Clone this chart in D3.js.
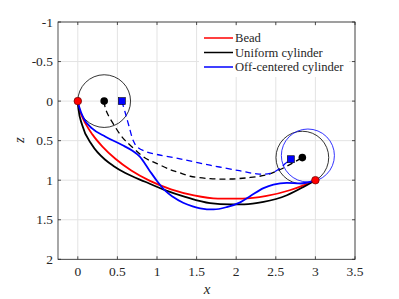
<!DOCTYPE html>
<html><head><meta charset="utf-8">
<script src="https://cdn.jsdelivr.net/npm/d3@7"></script>
<style>body{margin:0;background:#fff}svg{display:block}</style>
</head><body><div id="chart"></div>
<script>
const xTicks = [0, 0.5, 1, 1.5, 2, 2.5, 3, 3.5];
const zTicks = [-1, -0.5, 0, 0.5, 1, 1.5, 2];
const xTickLabels = ["0","0.5","1","1.5","2","2.5","3","3.5"];
const zTickLabels = ["-1","-0.5","0","0.5","1","1.5","2"];
const seriesNames = ["Bead", "Uniform cylinder", "Off-centered cylinder"];
const seriesColors = ["#ff0000", "#000000", "#0000ff"];

// track curves [x, z]
const beadCurve = [[0,0],[0.002,0.019],[0.013,0.076],[0.042,0.166],[0.098,0.285],[0.186,0.424],[0.311,0.575],[0.474,0.729],[0.675,0.877],[0.911,1.008],[1.177,1.115],[1.466,1.191],[1.77,1.232],[2.079,1.234],[2.384,1.199],[2.675,1.127],[2.85,1.065],[3,1]];
const uniformCurve = [[0,0],[0.008,0.1],[0.054,0.3],[0.18,0.555],[0.35,0.745],[0.45,0.82],[0.6,0.91],[0.85,1.02],[1.1,1.125],[1.355,1.21],[1.67,1.29],[1.925,1.305],[2.1,1.305],[2.345,1.275],[2.64,1.19],[2.85,1.085],[3,1]];
const offCurve = [[0,0],[0.02,0.08],[0.075,0.22],[0.18,0.345],[0.35,0.45],[0.56,0.555],[0.685,0.625],[0.78,0.7],[0.9,0.87],[1.0,1.01],[1.1,1.13],[1.2,1.21],[1.33,1.285],[1.45,1.33],[1.545,1.355],[1.715,1.37],[1.88,1.34],[2.05,1.28],[2.18,1.2],[2.345,1.1],[2.47,1.055],[2.64,1.035],[2.81,1.04],[2.92,1.025],[3,1]];
// center / mass paths
const uniformCenterPath = [[0.333,0],[0.345,0.08],[0.38,0.17],[0.45,0.29],[0.54,0.43],[0.6,0.5],[0.665,0.56],[0.85,0.72],[1.0,0.79],[1.165,0.865],[1.27,0.9],[1.42,0.95],[1.67,0.98],[1.925,0.985],[2.18,0.965],[2.39,0.93],[2.555,0.865],[2.7,0.79],[2.835,0.714]];
const offMassPath = [[0.556,0],[0.6,0.15],[0.65,0.33],[0.7,0.5],[0.745,0.575],[0.85,0.635],[1.0,0.675],[1.29,0.73],[1.67,0.81],[2.04,0.88],[2.26,0.92],[2.43,0.915],[2.555,0.85],[2.62,0.79],[2.69,0.735]];
// cylinders [cx, cz, r, colour]
const cylinders = [[0.333,0,0.333,"#000000"],[2.835,0.714,0.333,"#000000"],[2.905,0.688,0.335,"#0000ff"]];
const beadPoints = [[0,0],[3,1]];
const centerPoints = [[0.333,0],[2.835,0.714]];
const massPoints = [[0.556,0],[2.69,0.735]];

const FONT = "'Liberation Serif','DejaVu Serif','Times New Roman',serif";
const W = 399, H = 299;
const L = 58, R = 355, T = 22, B = 259.3;
const x = d3.scaleLinear().domain([-0.25, 3.5]).range([L, R]);
const y = d3.scaleLinear().domain([-1, 2]).range([T, B]);

const svg = d3.select("#chart").append("svg").attr("width", W).attr("height", H);

const grid = svg.append("g").attr("stroke", "#e3e3e3").attr("stroke-width", 1);
xTicks.forEach(t => grid.append("line").attr("x1", x(t)).attr("x2", x(t)).attr("y1", T).attr("y2", B));
zTicks.forEach(t => grid.append("line").attr("x1", L).attr("x2", R).attr("y1", y(t)).attr("y2", y(t)));

svg.append("clipPath").attr("id", "clip").append("rect").attr("x", L).attr("y", T).attr("width", R - L).attr("height", B - T);
const plot = svg.append("g").attr("clip-path", "url(#clip)");

const lineM = d3.line().x(d => x(d[0])).y(d => y(d[1])).curve(d3.curveMonotoneX);
const lineC = d3.line().x(d => x(d[0])).y(d => y(d[1])).curve(d3.curveCatmullRom.alpha(0.5));

cylinders.forEach(c => {
  plot.append("ellipse").attr("cx", x(c[0])).attr("cy", y(c[1]))
    .attr("rx", x(c[2]) - x(0)).attr("ry", y(c[2]) - y(0))
    .attr("fill", "none").attr("stroke", c[3]).attr("stroke-width", 0.8);
});

plot.append("path").attr("d", lineC(uniformCenterPath)).attr("fill", "none").attr("stroke", "#000").attr("stroke-width", 1.3).attr("stroke-dasharray", "6,4");
plot.append("path").attr("d", lineC(offMassPath)).attr("fill", "none").attr("stroke", "#0000ff").attr("stroke-width", 1.3).attr("stroke-dasharray", "6,4");

[[beadCurve, seriesColors[0]], [uniformCurve, seriesColors[1]], [offCurve, seriesColors[2]]].forEach(([d, c]) => {
  plot.append("path").attr("d", lineM(d)).attr("fill", "none").attr("stroke", c).attr("stroke-width", 1.8);
});

centerPoints.forEach(p => plot.append("circle").attr("cx", x(p[0])).attr("cy", y(p[1])).attr("r", 3.8).attr("fill", "#000"));
massPoints.forEach(p => plot.append("rect").attr("x", x(p[0]) - 3.5).attr("y", y(p[1]) - 3.5).attr("width", 7).attr("height", 7).attr("fill", "#0000ff").attr("stroke", "#000").attr("stroke-width", 0.6));
beadPoints.forEach(p => svg.append("circle").attr("cx", x(p[0])).attr("cy", y(p[1])).attr("r", 3.8).attr("fill", "#ff0000").attr("stroke", "#600").attr("stroke-width", 0.7));

const ax = svg.append("g").attr("stroke", "#262626").attr("stroke-width", 0.8);
ax.append("rect").attr("x", L).attr("y", T).attr("width", R - L).attr("height", B - T).attr("fill", "none");
xTicks.forEach(t => {
  ax.append("line").attr("x1", x(t)).attr("x2", x(t)).attr("y1", B).attr("y2", B - 3);
  ax.append("line").attr("x1", x(t)).attr("x2", x(t)).attr("y1", T).attr("y2", T + 3);
});
zTicks.forEach(t => {
  ax.append("line").attr("x1", L).attr("x2", L + 3).attr("y1", y(t)).attr("y2", y(t));
  ax.append("line").attr("x1", R).attr("x2", R - 3).attr("y1", y(t)).attr("y2", y(t));
});

const txt = (sel) => sel.attr("font-family", FONT).attr("fill", "#262626");
xTicks.forEach((t, i) => txt(svg.append("text")).attr("x", x(t)).attr("y", 276).attr("text-anchor", "middle").attr("font-size", 13.5).text(xTickLabels[i]));
zTicks.forEach((t, i) => txt(svg.append("text")).attr("x", 53).attr("y", y(t)).attr("dy", "0.35em").attr("text-anchor", "end").attr("font-size", 13.5).text(zTickLabels[i]));

txt(svg.append("text")).attr("x", 207).attr("y", 294).attr("text-anchor", "middle").attr("font-size", 15).attr("font-style", "italic").text("x");
txt(svg.append("text")).attr("transform", "translate(24,140) rotate(-90)").attr("text-anchor", "middle").attr("font-size", 15).attr("font-style", "italic").text("z");

const lg = svg.append("g");
lg.append("rect").attr("x", 199).attr("y", 26).attr("width", 150).attr("height", 51).attr("fill", "#fff");
seriesNames.forEach((n, i) => {
  const yy = 38 + i * 14.5;
  lg.append("line").attr("x1", 204).attr("x2", 233).attr("y1", yy).attr("y2", yy).attr("stroke", seriesColors[i]).attr("stroke-width", 1.5);
  txt(lg.append("text")).attr("x", 235).attr("y", yy).attr("dy", "0.35em").attr("font-size", 12.6).text(n);
});
</script></body></html>
